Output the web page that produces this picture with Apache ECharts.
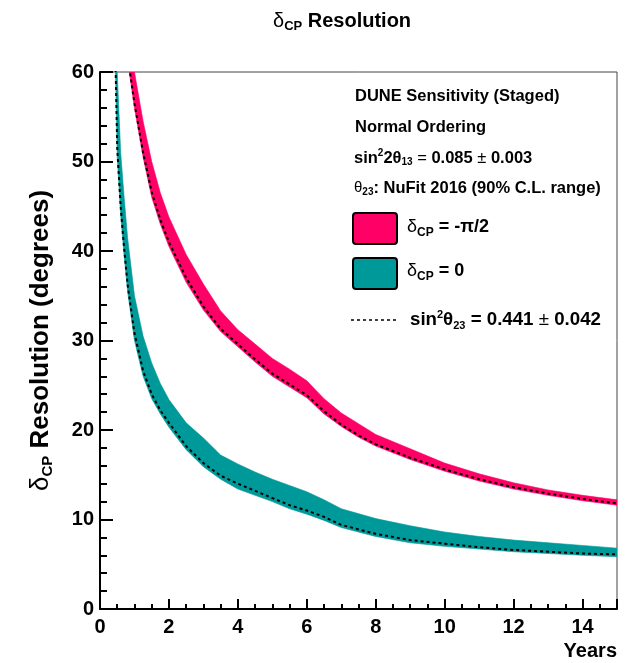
<!DOCTYPE html>
<html>
<head>
<meta charset="utf-8">
<script src="https://cdn.jsdelivr.net/npm/echarts@6/dist/echarts.min.js"></script>
<style>
html,body{margin:0;padding:0;background:#fff;}
#c{width:636px;height:663px;}
</style>
</head>
<body>
<div id="c"></div>
<script>
// ---- data ----
const pinkYears = [0.85, 1.0, 1.25, 1.5, 1.75, 2, 2.5, 3, 3.5, 4, 4.5, 5, 5.5, 6, 6.5, 7, 7.5, 8, 9, 10, 11, 12, 13, 14, 15];
const pinkLow   = [60, 56, 50.5, 46, 43, 40.5, 36.5, 33.4, 31.0, 29.3, 27.6, 26.0, 24.8, 23.6, 21.8, 20.4, 19.2, 18.2, 16.7, 15.4, 14.3, 13.4, 12.7, 12.1, 11.6];
const pinkHigh  = [64, 60, 54.5, 50, 46.5, 43.8, 39.6, 36.3, 33.3, 31.2, 29.6, 28.0, 26.8, 25.5, 23.5, 21.9, 20.7, 19.5, 17.9, 16.3, 15.1, 14.1, 13.3, 12.7, 12.2];
const pinkDash  = [60.5, 56.5, 51, 46.6, 43.5, 41, 37, 33.8, 31.3, 29.6, 27.9, 26.3, 25.1, 23.9, 22.1, 20.6, 19.4, 18.4, 16.9, 15.6, 14.5, 13.6, 12.9, 12.3, 11.8];

const tealYears = [0.45, 0.5, 0.6, 0.7, 0.8, 1.0, 1.25, 1.5, 1.75, 2, 2.5, 3, 3.5, 4, 4.5, 5, 5.5, 6, 6.5, 7, 8, 9, 10, 11, 12, 13, 14, 15];
const tealLow   = [60, 50.5, 44, 39.5, 35.5, 30, 26, 23.5, 21.8, 20.3, 17.8, 15.9, 14.5, 13.4, 12.7, 12.0, 11.2, 10.6, 9.9, 9.1, 8.1, 7.4, 7.0, 6.7, 6.4, 6.2, 6.0, 5.85];
const tealHigh  = [68, 60, 51, 46, 41.5, 35, 30.5, 27.5, 25.2, 23.4, 20.8, 19.1, 17.2, 16.2, 15.3, 14.5, 13.8, 13.1, 12.2, 11.2, 10.1, 9.3, 8.6, 8.1, 7.7, 7.4, 7.1, 6.8];
const tealDash  = [61, 51.5, 45, 40.3, 36.3, 30.8, 26.6, 24.0, 22.2, 20.8, 18.2, 16.3, 14.9, 14.0, 13.2, 12.4, 11.6, 11.0, 10.3, 9.4, 8.4, 7.7, 7.3, 6.9, 6.6, 6.4, 6.2, 6.1];

const xTicksMajor = [0, 15, 2];   // min, max, interval
const yTicksMajor = [0, 60, 10];

const titleText = '{d|δ}{s|CP} Resolution';
const yName = '{d|δ}{s|CP} Resolution (degrees)';
const xName = 'Years';
const infoLines = ['DUNE Sensitivity (Staged)', 'Normal Ordering'];

// ---- build ----
const FONT = 'Liberation Sans, Arial, Helvetica, sans-serif';
const PINK = '#ff0066';
const TEAL = '#009999';
const zip = (xs, ys) => xs.map((x, i) => [x, ys[i]]);

const chart = echarts.init(document.getElementById('c'), null, {renderer: 'canvas'});

const bandSeries = (name, xs, lo, hi, color) => ({
  type: 'custom', name: name, coordinateSystem: 'cartesian2d', xAxisIndex: 0, yAxisIndex: 0,
  silent: true, z: 2, clip: true,
  data: xs.map((x, i) => [x, lo[i], hi[i]]),
  encode: {x: 0, y: [1, 2]},
  renderItem: (params, api) => {
    if (params.dataIndex !== 0) return null;
    const pts = [];
    for (let i = 0; i < xs.length; i++) pts.push(api.coord([xs[i], hi[i]]));
    for (let i = xs.length - 1; i >= 0; i--) pts.push(api.coord([xs[i], lo[i]]));
    const cs = params.coordSys;
    return {
      type: 'polygon', shape: {points: pts},
      style: {fill: color, stroke: color, lineWidth: 0.6},
      clipPath: {type: 'rect', shape: {x: cs.x, y: cs.y, width: cs.width, height: cs.height}}
    };
  }
});

const dashSeries = (name, xs, ys) => ({
  type: 'line', name: name, data: zip(xs, ys), symbol: 'none', silent: true, xAxisIndex: 0,
  lineStyle: {color: '#000', width: 2, type: [3, 3]}, z: 4
});

const boldTxt = (size) => ({fontFamily: FONT, fontWeight: 'bold', fontSize: size, color: '#000'});

const option = {
  animation: false,
  backgroundColor: '#fff',
  title: {
    text: titleText, left: 268, top: 5,
    textStyle: Object.assign(boldTxt(20), {
      rich: {
        d: {fontFamily: FONT, fontSize: 20, fontWeight: 'normal', color: '#000'},
        s: {fontFamily: FONT, fontSize: 13, fontWeight: 'bold', color: '#000', padding: [10, 0, 0, 0]}
      }
    })
  },
  grid: {left: 100, right: 19, top: 72, bottom: 54, show: true, borderColor: '#444', borderWidth: 1, backgroundColor: 'transparent'},
  xAxis: [
    {type: 'value', min: xTicksMajor[0], max: xTicksMajor[1], interval: xTicksMajor[2], position: 'bottom',
     axisLine: {show: true, onZero: false, lineStyle: {color: '#000', width: 2}},
     axisTick: {show: true, inside: true, length: 10, lineStyle: {color: '#000', width: 2}},
     axisLabel: Object.assign(boldTxt(20), {margin: 8, formatter: v => (v === 15 ? '' : String(v))}),
     splitLine: {show: false},
     name: xName, nameLocation: 'end', nameGap: 0,
     nameTextStyle: Object.assign(boldTxt(20), {align: 'right', verticalAlign: 'top', padding: [32, 0, 0, 0]})
    },
    {type: 'value', min: 0, max: 15, interval: 0.5, position: 'bottom',
     axisLine: {show: false}, axisLabel: {show: false}, splitLine: {show: false},
     axisTick: {show: true, inside: true, length: 5, lineStyle: {color: '#000', width: 2}}}
  ],
  yAxis: {
    type: 'value', min: yTicksMajor[0], max: yTicksMajor[1], interval: yTicksMajor[2],
    axisLine: {show: true, onZero: false, lineStyle: {color: '#000', width: 2}},
    axisTick: {show: true, inside: true, length: 13, lineStyle: {color: '#000', width: 2}},
    minorTick: {show: true, splitNumber: 5, length: 7, lineStyle: {color: '#000', width: 2}},
    axisLabel: Object.assign(boldTxt(20), {margin: 6}),
    splitLine: {show: false},
    name: yName, nameLocation: 'middle', nameRotate: 90, nameGap: 45,
    nameTextStyle: Object.assign(boldTxt(26), {
      rich: {
        d: {fontFamily: FONT, fontSize: 26, fontWeight: 'normal', color: '#000'},
        s: {fontFamily: FONT, fontSize: 15, fontWeight: 'bold', color: '#000', padding: [14, 0, 0, 0]}
      }
    })
  },
  series: [
    bandSeries('δCP = -π/2', pinkYears, pinkLow, pinkHigh, PINK),
    bandSeries('δCP = 0', tealYears, tealLow, tealHigh, TEAL),
    dashSeries('sin²θ23 = 0.441 (δCP = -π/2)', pinkYears, pinkDash),
    dashSeries('sin²θ23 = 0.441 (δCP = 0)', tealYears, tealDash)
  ],
  graphic: [
    {type: 'text', x: 355, y: 96, style: {text: infoLines[0], font: 'bold 16.5px ' + FONT, fill: '#000', verticalAlign: 'middle'}},
    {type: 'text', x: 355, y: 127, style: {text: infoLines[1], font: 'bold 16.5px ' + FONT, fill: '#000', verticalAlign: 'middle'}},
    {type: 'text', x: 354, y: 158, style: {
      text: 'sin{sup|2}2θ{sub|13} {n|=} 0.085 {n|±} 0.003', font: 'bold 16.5px ' + FONT, fill: '#000', verticalAlign: 'middle',
      rich: {
        sup: {font: 'bold 10px ' + FONT, fill: '#000', padding: [0, 0, 9, 0]},
        sub: {font: 'bold 10px ' + FONT, fill: '#000', padding: [9, 0, 0, 0]},
        n: {font: 'normal 16.5px ' + FONT, fill: '#000'}
      }}},
    {type: 'text', x: 354, y: 188, style: {
      text: '{t|θ}{sub|23}: NuFit 2016 (90% C.L. range)', font: 'bold 16.5px ' + FONT, fill: '#000', verticalAlign: 'middle',
      rich: {
        t: {font: 'normal 15px ' + FONT, fill: '#000'},
        sub: {font: 'bold 10px ' + FONT, fill: '#000', padding: [9, 0, 0, 0]}
      }}},
    {type: 'rect', shape: {x: 353, y: 213, width: 44, height: 31, r: 3}, style: {fill: PINK, stroke: '#000', lineWidth: 2}},
    {type: 'text', x: 407, y: 227, style: {
      text: '{d|δ}{sub|CP} = -π/2', font: 'bold 18px ' + FONT, fill: '#000', verticalAlign: 'middle',
      rich: {
        d: {font: 'normal 18px ' + FONT, fill: '#000'},
        sub: {font: 'bold 12px ' + FONT, fill: '#000', padding: [11, 0, 0, 0]}
      }}},
    {type: 'rect', shape: {x: 353, y: 258, width: 44, height: 31, r: 3}, style: {fill: TEAL, stroke: '#000', lineWidth: 2}},
    {type: 'text', x: 407, y: 271, style: {
      text: '{d|δ}{sub|CP} = 0', font: 'bold 18px ' + FONT, fill: '#000', verticalAlign: 'middle',
      rich: {
        d: {font: 'normal 18px ' + FONT, fill: '#000'},
        sub: {font: 'bold 12px ' + FONT, fill: '#000', padding: [11, 0, 0, 0]}
      }}},
    {type: 'line', shape: {x1: 351, y1: 320, x2: 399, y2: 320}, style: {stroke: '#000', lineWidth: 1.5, lineDash: [3, 3]}},
    {type: 'text', x: 410, y: 320, style: {
      text: 'sin{sup|2}θ{sub|23} = 0.441 {n|±} 0.042', font: 'bold 18.7px ' + FONT, fill: '#000', verticalAlign: 'middle',
      rich: {
        sup: {font: 'bold 11px ' + FONT, fill: '#000', padding: [0, 0, 10, 0]},
        sub: {font: 'bold 11px ' + FONT, fill: '#000', padding: [11, 0, 0, 0]},
        n: {font: 'normal 18.7px ' + FONT, fill: '#000'}
      }}}
  ]
};
chart.setOption(option);
</script>
</body>
</html>
